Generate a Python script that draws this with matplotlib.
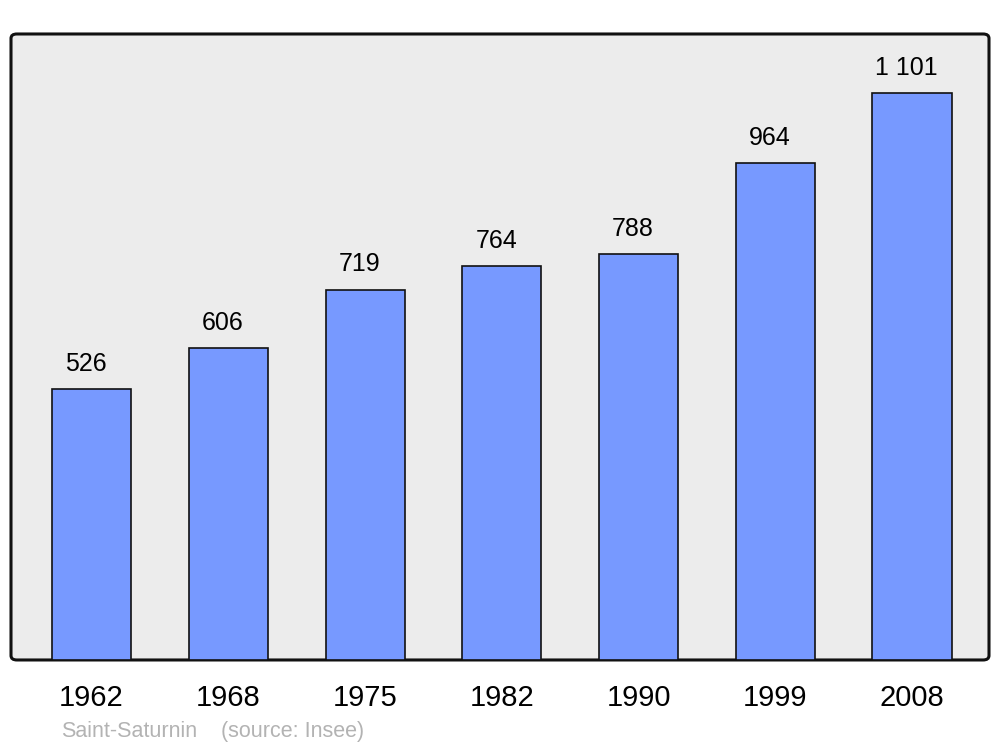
import matplotlib.pyplot as plt
from matplotlib.patches import FancyBboxPatch

plt.rcParams['font.family'] = ['Liberation Sans', 'DejaVu Sans']

years = ['1962', '1968', '1975', '1982', '1990', '1999', '2008']
population = [526, 606, 719, 764, 788, 964, 1101]
value_labels = ['526', '606', '719', '764', '788', '964', '1 101']

fig = plt.figure(figsize=(10, 7.47), dpi=100)
ax = fig.add_axes([0.011, 0.1165, 0.978, 0.838])

# background with rounded frame
ax.set_facecolor('none')
frame = FancyBboxPatch((0, 0), 1, 1, boxstyle='round,pad=0,rounding_size=0.006',
                       transform=ax.transAxes, facecolor='#ececec', edgecolor='#111111',
                       linewidth=2.2, zorder=0, clip_on=False, mutation_aspect=1.17)
ax.add_patch(frame)
for s in ax.spines.values():
    s.set_visible(False)

x = range(len(years))
bars = ax.bar(x, population, width=0.578, color='#7799ff', edgecolor='#111111',
              linewidth=1.2, zorder=2)

for xi, val, lab in zip(x, population, value_labels):
    ax.annotate(lab, (xi, val), xytext=(-4, 13), textcoords='offset points',
                ha='center', va='baseline', fontsize=18)

ax.set_xlim(-0.589, 6.563)
ax.set_ylim(0, 1215)
ax.set_yticks([])
ax.set_xticks(list(x))
ax.set_xticklabels(years, fontsize=21)
ax.tick_params(axis='x', length=0, pad=17)

fig.text(0.061, 0.0135, 'Saint-Saturnin', color='#b3b3b3', fontsize=15.5)
fig.text(0.221, 0.0135, '(source: Insee)', color='#b3b3b3', fontsize=15.5)

fig.savefig('out.png', dpi=100)
